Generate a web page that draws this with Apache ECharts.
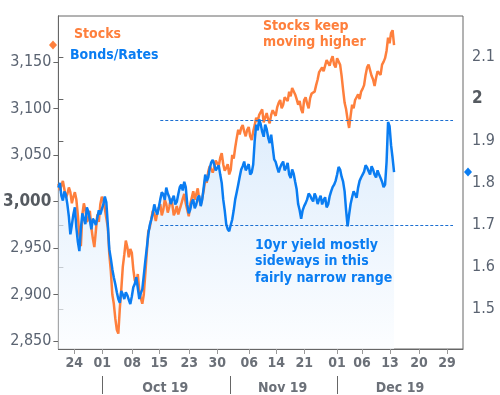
<!DOCTYPE html>
<html>
<head>
<meta charset="utf-8">
<script src="https://cdn.jsdelivr.net/npm/echarts@6/dist/echarts.min.js"></script>
<style>html,body{margin:0;padding:0;background:#fff}#c{width:500px;height:395px}</style>
</head>
<body>
<div id="c"></div>
<script>
// ---- data (x = sample position, two samples per unit step) ----
const stocks = [
3019,3012,3017,3022,3013,3004,3008,3015,3010,2998,
3005,3010,3002,2985,2964,2952,2986,2998,2991,2978,
2981,2990,2972,2960,2951,2968,2986,2978,2997,3005,
3002,2992,2991,2972,2943,2925,2900,2890,2874,2862,
2858,2885,2906,2930,2943,2958,2951,2940,2949,2945,
2927,2915,2912,2922,2904,2896,2890,2900,2922,2945,
2968,2972,2981,2990,2986,2979,2988,2993,2997,2985,
2991,3002,2997,2988,2994,3003,2997,2985,2989,2995,
2986,2984,2997,3003,3008,2998,2991,2984,2997,3004,
3011,3002,3008,3014,3002,2996,3004,3012,3024,3020,
3032,3038,3040,3031,3036,3044,3045,3038,3047,3052,
3040,3033,3036,3040,3029,3034,3050,3046,3058,3068,
3077,3072,3079,3082,3075,3070,3077,3080,3070,3066,
3075,3082,3090,3086,3093,3096,3099,3085,3090,3095,
3088,3084,3093,3098,3096,3092,3101,3106,3109,3100,
3104,3112,3111,3108,3118,3113,3122,3124,3115,3110,
3104,3108,3099,3095,3109,3112,3105,3100,3111,3116,
3114,3118,3125,3131,3139,3141,3144,3140,3146,3152,
3150,3146,3152,3156,3147,3144,3154,3156,3147,3135,
3120,3106,3099,3088,3079,3092,3104,3100,3109,3112,
3115,3110,3118,3121,3125,3136,3144,3147,3141,3135,
3131,3124,3133,3140,3139,3136,3147,3150,3154,3162,
3176,3170,3181,3184,3168];
const bonds = [
1.789,1.800,1.770,1.758,1.780,1.772,1.749,1.720,1.678,1.700,
1.725,1.742,1.694,1.660,1.638,1.690,1.728,1.715,1.702,1.742,
1.732,1.712,1.690,1.715,1.709,1.700,1.718,1.735,1.725,1.738,
1.749,1.768,1.754,1.700,1.642,1.620,1.595,1.575,1.559,1.540,
1.524,1.515,1.543,1.535,1.524,1.540,1.533,1.522,1.512,1.530,
1.552,1.560,1.576,1.550,1.524,1.538,1.547,1.580,1.614,1.645,
1.678,1.700,1.713,1.728,1.749,1.735,1.725,1.742,1.761,1.778,
1.773,1.760,1.789,1.775,1.766,1.750,1.761,1.770,1.749,1.755,
1.773,1.790,1.796,1.782,1.803,1.790,1.749,1.728,1.737,1.755,
1.761,1.740,1.749,1.765,1.770,1.745,1.761,1.790,1.820,1.805,
1.813,1.835,1.849,1.855,1.844,1.830,1.832,1.842,1.820,1.800,
1.761,1.735,1.702,1.690,1.685,1.700,1.713,1.735,1.761,1.778,
1.796,1.815,1.832,1.840,1.851,1.830,1.837,1.845,1.820,1.825,
1.844,1.900,1.939,1.925,1.951,1.940,1.922,1.910,1.939,1.928,
1.908,1.895,1.915,1.885,1.856,1.850,1.837,1.825,1.837,1.845,
1.851,1.830,1.837,1.848,1.820,1.812,1.832,1.822,1.803,1.785,
1.750,1.735,1.715,1.735,1.745,1.752,1.761,1.775,1.770,1.762,
1.756,1.775,1.766,1.750,1.761,1.770,1.749,1.760,1.766,1.742,
1.749,1.768,1.780,1.790,1.796,1.805,1.820,1.838,1.832,1.815,
1.803,1.780,1.735,1.697,1.725,1.750,1.766,1.780,1.773,1.765,
1.789,1.805,1.813,1.820,1.827,1.842,1.837,1.828,1.820,1.840,
1.832,1.820,1.813,1.830,1.820,1.812,1.803,1.790,1.796,1.850,
1.945,1.935,1.890,1.860,1.826];
const sampleStep = 0.5;
const stockTicks = [2850,2900,2950,3000,3050,3100,3150];
const bondTicks = [1.5,1.6,1.7,1.8,1.9,2,2.1];
const xTickPos = [5.33,14.67,24.67,33.67,43.67,53,63.67,72.67,82,93,101.33,110.67,120.33,129.67];
const xTickLabels = ['24','01','08','15','23','30','06','14','21','01','06','13','20','29'];
const monthSepPos = [14.67,57.33,93];
const monthLabelPos = [35.67,74.83,114];
const monthLabels = ['Oct 19','Nov 19','Dec 19'];
const rangeLevels = [1.95,1.70];
const rangeStart = 34, rangeEnd = 131.67;

const FONT = "'DejaVu Sans Condensed','DejaVu Sans',sans-serif";
const ORANGE = '#fe7f3c', BLUE = '#0a7df2';
const fmtThousands = v => String(Math.round(v)).replace(/\B(?=(\d{3})+(?!\d))/g, ',');
const pick = (arr, labels, v) => { for (let i = 0; i < arr.length; i++) if (Math.abs(arr[i] - v) < 0.01) return labels[i]; return ''; };
const toPts = arr => arr.map((v, i) => [i * sampleStep, v]);

const chart = echarts.init(document.getElementById('c'), null, {renderer: 'canvas'});
const option = {
  animation: false,
  backgroundColor: '#fff',
  grid: {left: 58, right: 37, top: 16, bottom: 45, show: true, borderColor: '#666', borderWidth: 1, backgroundColor: 'transparent'},
  xAxis: [{
    type: 'value', min: 0, max: 135, position: 'bottom',
    axisLine: {show: true, lineStyle: {color: '#666', width: 1}},
    axisTick: {show: true, length: 5, customValues: xTickPos, lineStyle: {color: '#999'}},
    axisLabel: {customValues: xTickPos, margin: 7, color: '#6b7078', fontWeight: 'bold', fontSize: 14, fontFamily: FONT,
      formatter: v => pick(xTickPos, xTickLabels, v)},
    splitLine: {show: false}
  }, {
    type: 'value', min: 0, max: 135, position: 'bottom', offset: 27,
    axisLine: {show: false},
    axisTick: {show: true, length: 18, customValues: monthSepPos, lineStyle: {color: '#666'}},
    axisLabel: {customValues: monthLabelPos, margin: 5, color: '#6b7078', fontWeight: 'bold', fontSize: 14, fontFamily: FONT,
      formatter: v => pick(monthLabelPos, monthLabels, v)},
    splitLine: {show: false}
  }],
  yAxis: [{
    type: 'value', min: 2841.4, max: 3199.3, position: 'left',
    axisLine: {show: true, lineStyle: {color: '#666'}},
    axisTick: {show: true, length: 5, customValues: stockTicks, lineStyle: {color: '#666'}},
    axisLabel: {customValues: stockTicks, margin: 7, fontFamily: FONT,
      formatter: v => Math.round(v) === 3000 ? '{b|' + fmtThousands(v) + '}' : '{n|' + fmtThousands(v) + '}',
      rich: {n: {fontSize: 16, color: '#5a6371', fontFamily: FONT}, b: {fontSize: 17, fontWeight: 'bold', color: '#555a60', fontFamily: FONT}}},
    splitLine: {show: false}
  }, {
    type: 'value', min: 1.4051, max: 2.1972, position: 'right',
    axisLine: {show: true, lineStyle: {color: '#666'}},
    axisTick: {show: true, length: 5, customValues: bondTicks, lineStyle: {color: '#666'}},
    axisLabel: {customValues: bondTicks, margin: 9, fontFamily: FONT,
      formatter: v => Math.abs(v - 2) < 1e-6 ? '{b|2}' : '{n|' + (+v).toFixed(1) + '}',
      rich: {n: {fontSize: 16, color: '#5a6371', fontFamily: FONT}, b: {fontSize: 17, fontWeight: 'bold', color: '#555a60', fontFamily: FONT}}},
    splitLine: {show: false}
  }],
  series: [{
    type: 'line', name: 'area', xAxisIndex: 0, yAxisIndex: 1, z: 1, silent: true,
    data: toPts(bonds), showSymbol: false, symbol: 'none',
    lineStyle: {width: 0, opacity: 0},
    areaStyle: {origin: 'start', color: new echarts.graphic.LinearGradient(0, 0, 0, 1, [{offset: 0, color: '#d0e5fb'}, {offset: 1, color: '#fbfdff'}])}
  }, {
    type: 'line', name: 'Stocks', xAxisIndex: 0, yAxisIndex: 0, z: 2,
    data: toPts(stocks), showSymbol: false, symbol: 'none',
    lineStyle: {color: ORANGE, width: 2.5}
  }, {
    type: 'line', name: 'Bonds/Rates', xAxisIndex: 0, yAxisIndex: 1, z: 3,
    data: toPts(bonds), showSymbol: false, symbol: 'none',
    lineStyle: {color: BLUE, width: 2.5},
    markLine: {
      silent: true, symbol: 'none', label: {show: false},
      lineStyle: {color: '#1b6fd1', type: [3, 2], width: 1},
      data: rangeLevels.map(l => [{coord: [rangeStart, l]}, {coord: [rangeEnd, l]}])
    }
  }]
};
chart.setOption(option);

const ys = chart.convertToPixel({yAxisIndex: 0}, stocks[stocks.length - 1]);
const yb = chart.convertToPixel({yAxisIndex: 1}, bonds[bonds.length - 1]);
const diamond = (cx, cy, color) => ({type: 'polygon', shape: {points: [[cx, cy - 4.5], [cx + 4, cy], [cx, cy + 4.5], [cx - 4, cy]]}, style: {fill: color}, z: 10});
const txt = (x, y, text, color, lh) => ({type: 'text', x: x, y: y, z: 10,
  style: {text: text, fill: color, font: 'bold 14px ' + FONT, lineHeight: lh || 16, textAlign: 'left', textVerticalAlign: 'top'}});
chart.setOption({graphic: {elements: [
  diamond(53, ys, ORANGE),
  diamond(468, yb, BLUE),
  txt(74, 26, 'Stocks', ORANGE),
  txt(70, 47, 'Bonds/Rates', BLUE),
  txt(263, 19, 'Stocks keep\nmoving higher', ORANGE, 15.5),
  txt(255, 237, '10yr yield mostly\nsideways in this\nfairly narrow range', BLUE, 16.5)
]}});
</script>
</body>
</html>
